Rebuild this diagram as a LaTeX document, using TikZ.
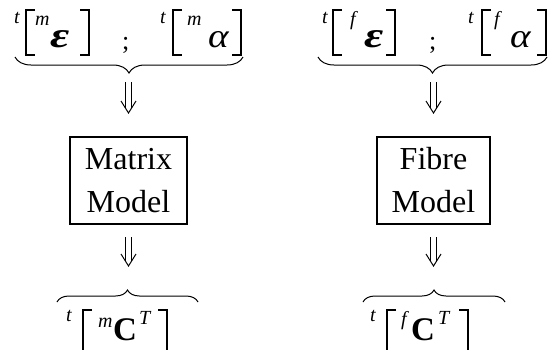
\documentclass[tikz,border=0pt]{standalone}
\usepackage{fontspec}
\usepackage{graphicx}
\setmainfont{Liberation Serif}
\usetikzlibrary{decorations.pathreplacing}
\newcommand{\dbarrow}[2]{%
  \draw[arr] ([xshift=-3pt]#1) -- ([xshift=-3pt,yshift=4.8pt]#2);
  \draw[arr] ([xshift=3pt]#1) -- ([xshift=3pt,yshift=4.8pt]#2);
  \draw[arr] ([xshift=-7.5pt,yshift=12pt]#2) -- (#2) -- ([xshift=7.5pt,yshift=12pt]#2);}
\newcommand{\wideeps}{\scalebox{1.3}[1]{ε}}
\newcommand{\widealp}{\scalebox{1.15}[1]{α}}
\begin{document}
\begin{tikzpicture}[x=1pt,y=-1pt,
  supsty/.style={font=\fontsize{20}{20}\selectfont\itshape, inner sep=0, anchor=base west},
  epssty/.style={font=\fontsize{36}{36}\selectfont\bfseries\itshape, inner sep=0, anchor=base west},
  alpsty/.style={font=\fontsize{34}{34}\selectfont\itshape, inner sep=0, anchor=base west},
  csty/.style={font=\fontsize{33}{33}\selectfont\bfseries, inner sep=0, anchor=base west},
  semisty/.style={font=\fontsize{26}{26}\selectfont, inner sep=0, anchor=base west},
  brk/.style={line width=1.3pt, line join=miter},
  brc/.style={decorate, decoration={brace, amplitude=#1}, line width=1pt},
  arr/.style={line width=1pt, line join=miter},
  model/.style={draw, line width=1.3pt, minimum height=87pt, inner sep=0, align=center,
    font=\fontsize{32}{43}\selectfont}
]
\useasboundingbox (0,0) rectangle (550,349);

% ---------- left column ----------
\node[supsty] (tL1) at (14,23) {t};
\draw[brk] (35,10) -- (26,10) -- (26,55) -- (35,55);
\node[supsty] (mL1) at (35,25) {m};
\node[epssty] (epsL) at (50,47) {\wideeps};
\draw[brk] (80,10) -- (89,10) -- (89,55) -- (80,55);
\node[semisty] (semiL) at (122,49) {;};
\node[supsty] (tL2) at (160,23) {t};
\draw[brk] (182,10) -- (173,10) -- (173,55) -- (182,55);
\node[supsty] (mL2) at (187,25) {m};
\node[alpsty] (alpL) at (208,47) {\widealp};
\draw[brk] (232,10) -- (241,10) -- (241,55) -- (232,55);
\draw[brc=16pt] (243,57) -- (15,57);

\coordinate (aL1s) at (128.5,82);
\coordinate (aL1e) at (128.5,113);
\dbarrow{aL1s}{aL1e}

\node[model, minimum width=117pt] (boxL) at (128.5,180.5) {Matrix\\Model};

\coordinate (aL2s) at (128.5,237);
\coordinate (aL2e) at (128.5,266);
\dbarrow{aL2s}{aL2e}

\draw[brc=12pt] (57,302) -- (198,302);
\node[supsty] (tL3) at (66,321) {t};
\draw[brk] (92,310) -- (83,310) -- (83,352);
\node[supsty] (mL3) at (98,327) {m};
\node[csty] (CL) at (113,340) {C};
\node[supsty] (TL) at (139,324) {T};
\draw[brk] (158,310) -- (167,310) -- (167,352);

% ---------- right column ----------
\node[supsty] (tR1) at (322,23) {t};
\draw[brk] (342,10) -- (333,10) -- (333,55) -- (342,55);
\node[supsty] (fR1) at (350,25) {f};
\node[epssty] (epsR) at (364,47) {\wideeps};
\draw[brk] (386,10) -- (395,10) -- (395,55) -- (386,55);
\node[semisty] (semiR) at (429,49) {;};
\node[supsty] (tR2) at (468,23) {t};
\draw[brk] (491,10) -- (482,10) -- (482,55) -- (491,55);
\node[supsty] (fR2) at (494,25) {f};
\node[alpsty] (alpR) at (510,47) {\widealp};
\draw[brk] (537,10) -- (546,10) -- (546,55) -- (537,55);
\draw[brc=16pt] (547,57) -- (318,57);

\coordinate (aR1s) at (433.5,82);
\coordinate (aR1e) at (433.5,113);
\dbarrow{aR1s}{aR1e}

\node[model, minimum width=113pt] (boxR) at (433.5,180.5) {Fibre\\Model};

\coordinate (aR2s) at (433.5,237);
\coordinate (aR2e) at (433.5,266);
\dbarrow{aR2s}{aR2e}

\draw[brc=12pt] (363,302) -- (505,302);
\node[supsty] (tR3) at (370,321) {t};
\draw[brk] (396,310) -- (387,310) -- (387,352);
\node[supsty] (fR3) at (401,325) {f};
\node[csty] (CR) at (411,340) {C};
\node[supsty] (TR) at (438,324) {T};
\draw[brk] (459,310) -- (468,310) -- (468,352);
\end{tikzpicture}
\end{document}
